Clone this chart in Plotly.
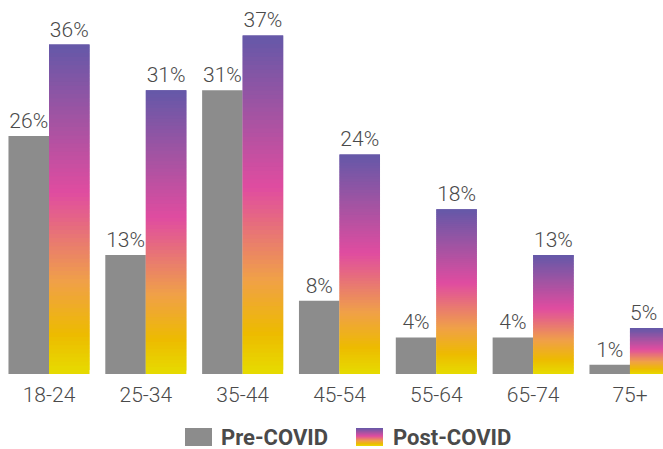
import plotly.graph_objects as go
from plotly.colors import sample_colorscale

categories = ["18-24", "25-34", "35-44", "45-54", "55-64", "65-74", "75+"]
pre_covid = [26, 13, 31, 8, 4, 4, 1]
post_covid = [36, 31, 37, 24, 18, 13, 5]
series_names = ["Pre-COVID", "Post-COVID"]

PRE_COLOR = "#8c8c8c"
TEXT_COLOR = "#4a4a4a"
GRADIENT = [[0.0, "#e6dc00"], [0.12, "#edbb00"], [0.28, "#f0a048"],
            [0.55, "#e04ca0"], [0.75, "#a853a2"], [1.0, "#6458a8"]]
N_SEG = 80
FONT = "Roboto"

W, H = 663, 449
M_T, M_B = 0, 75
PH = H - M_T - M_B

label_font = dict(family=FONT, size=21, color=TEXT_COLOR, weight=300)

fig = go.Figure()

fig.add_trace(go.Bar(
    x=categories, y=pre_covid, name=series_names[0], offsetgroup="pre",
    marker=dict(color=PRE_COLOR, line=dict(width=0)),
    text=[f"{v}%" for v in pre_covid], textposition="outside",
    constraintext="none", cliponaxis=False, textfont=label_font,
    showlegend=False, hoverinfo="skip",
))

seg_colors = sample_colorscale(GRADIENT, [(k + 0.5) / N_SEG for k in range(N_SEG)])
for k in range(N_SEG):
    last = k == N_SEG - 1
    overlap = 1.0 if last else 2.0
    fig.add_trace(go.Bar(
        x=categories,
        y=[v * overlap / N_SEG for v in post_covid],
        base=[v * k / N_SEG for v in post_covid],
        offsetgroup="post",
        marker=dict(color=seg_colors[k], line=dict(width=0)),
        text=([f"{v}%" for v in post_covid[:-1]] + [""]) if last else None,
        textposition="outside" if last else "none",
        constraintext="none", cliponaxis=False, textfont=label_font,
        showlegend=False, hoverinfo="skip",
    ))

# custom legend
def px2x(p):
    return p / W

def px2y(p):
    return (PH - (p - M_T)) / PH

shapes = [dict(type="rect", xref="paper", yref="paper",
               x0=px2x(185), x1=px2x(212), y0=px2y(446), y1=px2y(428),
               fillcolor=PRE_COLOR, line=dict(width=0), layer="above")]
n_leg = 18
leg_cols = sample_colorscale(GRADIENT, [(k + 0.5) / n_leg for k in range(n_leg)])
for k in range(n_leg):
    y_bot = 446 - k
    shapes.append(dict(type="rect", xref="paper", yref="paper",
                       x0=px2x(356), x1=px2x(383), y0=px2y(y_bot),
                       y1=px2y(y_bot - (1.0 if k == n_leg - 1 else 1.6)),
                       fillcolor=leg_cols[k], line=dict(width=0), layer="above"))

annotations = [
    dict(text=series_names[0], xref="paper", yref="paper", x=px2x(219), y=px2y(437),
         xanchor="left", yanchor="middle", showarrow=False,
         font=dict(family=FONT, size=22, color=TEXT_COLOR, weight=700)),
    dict(text=series_names[1], xref="paper", yref="paper", x=px2x(391), y=px2y(437),
         xanchor="left", yanchor="middle", showarrow=False,
         font=dict(family=FONT, size=22, color=TEXT_COLOR, weight=700)),
    # label of the last (edge-clipped) post-COVID bar, centred on its visible part
    dict(text=f"{post_covid[-1]}%", xref="x", yref="y", x=categories[-1], y=post_covid[-1],
         xanchor="center", yanchor="bottom", xshift=14, yshift=1, showarrow=False,
         font=label_font),
]

px_per_unit = 9.15
fig.update_layout(
    width=W, height=H,
    margin=dict(l=0, r=0, t=M_T, b=M_B, pad=0),
    paper_bgcolor="white", plot_bgcolor="white",
    barmode="group", bargap=0.163, bargroupgap=0,
    xaxis=dict(range=[-0.506, 6.341], showgrid=False, zeroline=False, showline=False,
               ticks="", ticklabelstandoff=6, tickfont=label_font, fixedrange=True),
    yaxis=dict(range=[0, PH / px_per_unit], visible=False, showgrid=False, zeroline=False,
               fixedrange=True),
    shapes=shapes, annotations=annotations,
    showlegend=False,
)

fig.write_html("out.html")
